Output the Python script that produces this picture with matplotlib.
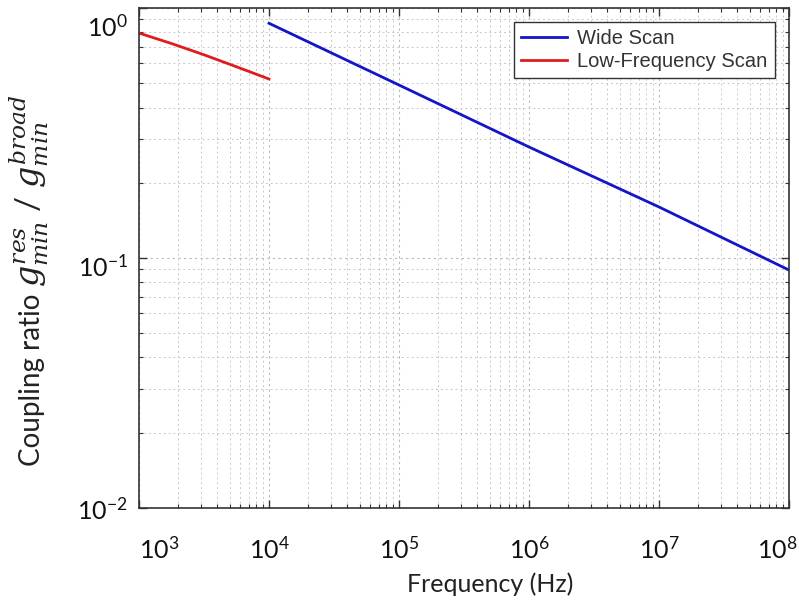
import numpy as np
import matplotlib
matplotlib.use("Agg")
import matplotlib.pyplot as plt
from matplotlib.transforms import ScaledTranslation

plt.rcParams['mathtext.fontset'] = 'custom'
plt.rcParams['mathtext.rm'] = 'Lato'
plt.rcParams['mathtext.it'] = 'DejaVu Serif:italic'

# Data
wide_freq = [1e4, 1e5, 1e6, 1e7, 1e8]
wide_ratio = [0.869, 0.492, 0.278, 0.160, 0.0895]
low_freq = [1e3, 10**3.25, 10**3.5, 10**3.75, 1e4]
low_ratio = [0.794, 0.721, 0.650, 0.582, 0.520]

xtick_vals = [1e3, 1e4, 1e5, 1e6, 1e7, 1e8]
xtick_labels = ['10$^{3}$', '10$^{4}$', '10$^{5}$', '10$^{6}$', '10$^{7}$', '10$^{8}$']
ytick_vals = [1e-2, 1e-1, 1e0]
ytick_labels = ['10$^{-2}$', '10$^{-1}$', '10$^{0}$']

fig = plt.figure(figsize=(7.99, 6.08), dpi=100)
ax = fig.add_axes([0.174, 0.1645, 0.8135, 0.8223])

ax.plot(wide_freq, wide_ratio, color='#1414c8', lw=2.0, label='Wide Scan')
ax.plot(low_freq, low_ratio, color='#e01c1c', lw=2.0, label='Low-Frequency Scan')

ax.set_xscale('log')
ax.set_yscale('log')
ax.set_xlim(1e3, 1e8)
ax.set_ylim(1e-2, 1e0)

ax.grid(True, which='major', color='#b8b8b8', linestyle=(0, (2, 3)), linewidth=0.8)
ax.grid(True, which='minor', color='#c8c8c8', linestyle=(0, (2, 3)), linewidth=0.7)

ax.tick_params(which='both', direction='in', top=True, right=True, colors='#333333')
ax.tick_params(which='major', length=6, width=1.0, labelsize=18, labelcolor='#111111')
ax.tick_params(axis='x', which='major', pad=20)
ax.tick_params(axis='y', which='major', pad=8)
ax.tick_params(which='minor', length=3, width=0.8)

ax.set_xticks(xtick_vals)
ax.set_xticklabels(xtick_labels)
ax.set_yticks(ytick_vals)
ax.set_yticklabels(ytick_labels)

for lab in ax.get_xticklabels() + ax.get_yticklabels():
    lab.set_family('Lato')

# shift edge labels inward as in the reference
xl = ax.get_xticklabels()
xl[0].set_transform(xl[0].get_transform() + ScaledTranslation(0.2, 0, fig.dpi_scale_trans))
xl[-1].set_transform(xl[-1].get_transform() + ScaledTranslation(-0.12, 0, fig.dpi_scale_trans))
yl = ax.get_yticklabels()
yl[-1].set_transform(yl[-1].get_transform() + ScaledTranslation(0, -0.17, fig.dpi_scale_trans))
yl[1].set_transform(yl[1].get_transform() + ScaledTranslation(0, -0.07, fig.dpi_scale_trans))

for s in ax.spines.values():
    s.set_color('#333333')
    s.set_linewidth(1.2)

ax.set_xlabel('Frequency (Hz)', fontsize=18, family='Lato', color='#222222')
ax.xaxis.set_label_coords(0.54, -0.128)

# y label: plain part + larger math part
ylab = ax.set_ylabel('Coupling ratio', fontsize=20, family='Lato', color='#222222')
ylab.set_rotation_mode('anchor')
ylab.set_va('baseline')
base_x = -0.152
ax.yaxis.set_label_coords(base_x, 0.256)
ax.annotate('$g_{min}^{res}\\;/\\;g_{min}^{broad}$', xy=(base_x, 1.0),
            xycoords=(ax.transAxes, ylab), xytext=(0, 5), textcoords='offset points',
            rotation=90, rotation_mode='anchor', ha='left', va='baseline',
            fontsize=24, color='#222222', annotation_clip=False)

leg = ax.legend(loc='upper right', bbox_to_anchor=(0.978, 0.972), borderaxespad=0,
                handlelength=2.3, fancybox=False, framealpha=1,
                edgecolor='#333333', borderpad=0.35, labelspacing=0.2, handletextpad=0.5,
                prop={'family': 'Liberation Sans', 'size': 14.5})
leg.get_frame().set_linewidth(1.0)
for t in leg.get_texts():
    t.set_color('#333333')

fig.savefig('out.png', dpi=100)
